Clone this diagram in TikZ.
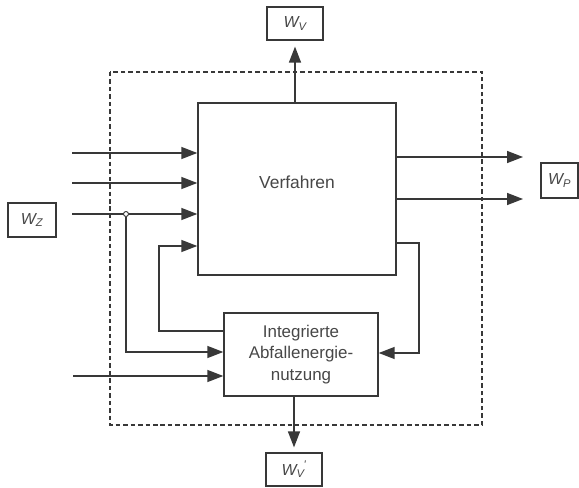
\documentclass[tikz,border=0pt]{standalone}
\usepackage{fontspec}
\setmainfont{Liberation Sans}
\usetikzlibrary{arrows.meta}

\begin{document}
\begin{tikzpicture}[
  x=1bp,
  y=-1bp,
  line cap=butt,
  line join=miter,
  >={Triangle[length=16,width=12]},
  block/.style={draw=black!78, line width=1.4, fill=white, inner sep=0},
  wbox/.style={draw=black!78, line width=1.3, fill=white, inner sep=0,
    minimum width=56bp, minimum height=33bp, font=\fontsize{16}{18}\selectfont\itshape},
  flow/.style={draw=black!78, line width=1.4, ->},
  frame/.style={draw=black!78, line width=1.1, dash pattern=on 4.5 off 3},
  every node/.style={text=black!72}
]
\path[use as bounding box] (0,0) rectangle (579,488);
\fill[white] (0,0) rectangle (579,488);

% System boundary
\draw[frame] (110,72) rectangle (482,425);

% Blocks
\node[block, minimum width=198bp, minimum height=172bp] (verf) at (297,189) {};
\node[font=\fontsize{17.5}{20}\selectfont] (verftxt) at (297,182) {Verfahren};

\node[block, minimum width=154bp, minimum height=83bp, align=center,
  font=\fontsize{17}{21.5}\selectfont] (integ) at (301,354.5)
  {Integrierte\\Abfallenergie-\\nutzung};

\node[wbox] (wv) at (295,23.5) {W\textsubscript{V}};
\node[wbox, minimum width=37bp, minimum height=35bp] (wp) at (559.5,180.5) {W\textsubscript{P}};
\node[wbox, minimum width=48bp, minimum height=34bp] (wz) at (32,220) {W\textsubscript{Z}};
\node[wbox] (wvs) at (294,469.5) {W\textsubscript{V}\textsuperscript{\kern-1pt\textquotesingle}};

% Free ends of connectors
\coordinate (in1) at (72,153);
\coordinate (in2) at (72,183);
\coordinate (in3) at (72,214);
\coordinate (in4) at (73,376);
\coordinate (out1) at (523,157);
\coordinate (out2) at (523,199);
\coordinate (fbl) at (159,331);
\coordinate (fbl2) at (159,246);
\coordinate (fbr) at (419,243);
\coordinate (fbr2) at (419,353);
\coordinate (zdown) at (126,352);

% Inputs
\draw[flow] (in1) -- (in1 -| verf.west);
\draw[flow] (in2) -- (in2 -| verf.west);
\draw[flow] (in3) -- (in3 -| verf.west);
\draw[flow] (in4) -- (in4 -| integ.west);

% Branch to waste energy use
\node[circle, draw=black!78, line width=0.9, fill=white, inner sep=0, minimum size=5bp] (jn) at (126,214) {};
\draw[flow] (jn.south) -- (zdown) -- (zdown -| integ.west);

% Feedback loops
\draw[flow] (fbl -| integ.west) -- (fbl) -- (fbl2) -- (fbl2 -| verf.west);
\draw[flow] (fbr -| verf.east) -- (fbr) -- (fbr2) -- (fbr2 -| integ.east);

% Outputs
\draw[flow] (out1 -| verf.east) -- (out1);
\draw[flow] (out2 -| verf.east) -- (out2);
\draw[flow, shorten >=6] (wv.south |- verf.north) -- (wv.south);
\draw[flow, shorten >=5] (wvs.north |- integ.south) -- (wvs.north);

\end{tikzpicture}
\end{document}
